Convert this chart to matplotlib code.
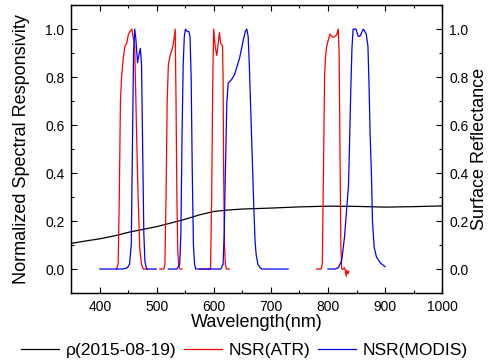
import matplotlib
matplotlib.use("Agg")
import matplotlib.pyplot as plt
from matplotlib.ticker import MultipleLocator

plt.rcParams["font.family"] = ["Liberation Sans", "DejaVu Sans"]

# surface reflectance rho(2015-08-19)
rho_wl = [350, 375, 400, 425, 450, 475, 500, 525, 550, 575, 600, 625, 650, 700, 750, 800, 850, 900, 950, 1000]
rho = [0.107, 0.117, 0.126, 0.138, 0.153, 0.165, 0.177, 0.192, 0.208, 0.226, 0.240, 0.246, 0.250, 0.254,
       0.259, 0.262, 0.261, 0.258, 0.260, 0.263]

# NSR(ATR) bands
atr1_wl = [429, 432, 434, 436, 438, 441, 444, 447, 450, 453, 456, 458, 461, 464, 467, 470, 473, 476, 484]
atr1 = [0.0, 0.02, 0.3, 0.7, 0.8, 0.88, 0.93, 0.94, 0.98, 0.99, 1.0, 0.97, 0.93, 0.6, 0.3, 0.08, 0.02, 0.0, 0.0]
atr2_wl = [505, 512, 514, 516, 518, 520, 523, 526, 528, 530, 532, 533.5, 535, 536.5, 538, 540, 544]
atr2 = [0.0, 0.0, 0.02, 0.3, 0.7, 0.85, 0.89, 0.91, 0.93, 0.96, 1.0, 0.7, 0.3, 0.08, 0.02, 0.0, 0.0]
atr3_wl = [575, 590, 594, 596, 598, 599.5, 602, 605, 607, 609.5, 612, 615, 616, 617, 618.5, 620, 622, 627]
atr3 = [0.0, 0.0, 0.0, 0.3, 0.8, 1.0, 0.93, 0.89, 0.93, 0.985, 0.94, 0.93, 0.8, 0.4, 0.1, 0.02, 0.0, 0.0]
atr4_wl = [780, 788, 790, 792, 794, 795.5, 797.5, 800, 803.5, 806.5, 809, 812, 815, 818, 819.5, 821, 822.5,
           824, 827, 829, 830.5, 832, 833, 835, 836.5]
atr4 = [0.0, 0.0, 0.02, 0.4, 0.8, 0.88, 0.926, 0.95, 0.98, 0.97, 0.965, 0.97, 0.975, 1.0, 0.9, 0.5, 0.1,
        0.0, 0.0, 0.005, -0.01, -0.03, -0.005, -0.02, -0.01]

# NSR(MODIS) bands
mod3_wl = [400, 440, 448, 452, 455, 457, 459, 461, 463, 466, 469, 471, 473, 475, 477, 479, 482, 490, 499]
mod3 = [0.0, 0.0, 0.005, 0.02, 0.1, 0.5, 0.9, 1.0, 0.96, 0.86, 0.9, 0.92, 0.85, 0.5, 0.15, 0.03, 0.0, 0.0, 0.0]
mod4_wl = [520, 535, 540, 542, 544, 546, 548, 550, 553, 556, 558, 560, 562, 564, 566, 568, 590]
mod4 = [0.0, 0.0, 0.02, 0.15, 0.55, 0.85, 0.97, 1.0, 0.99, 0.99, 0.97, 0.8, 0.4, 0.1, 0.02, 0.0, 0.0]
mod1_wl = [590, 612, 616, 618, 619.5, 622.5, 625, 631, 636, 640, 645, 649, 652, 655, 657.5, 660, 662, 664,
           666, 668, 670, 672, 674, 677, 681, 684, 730]
mod1 = [0.0, 0.0, 0.02, 0.15, 0.34, 0.69, 0.775, 0.79, 0.81, 0.84, 0.88, 0.926, 0.96, 0.99, 1.0, 0.97,
        0.85, 0.7, 0.55, 0.4, 0.25, 0.12, 0.06, 0.02, 0.005, 0.0, 0.0]
mod2_wl = [800, 812, 818, 824, 829, 833, 836, 838, 840, 842, 844, 849, 853, 856, 862, 867, 870, 872, 874,
           876, 878, 881, 885, 892, 900]
mod2 = [0.0, 0.0, 0.005, 0.035, 0.135, 0.26, 0.35, 0.55, 0.75, 0.92, 1.0, 1.0, 0.97, 0.97, 1.0, 0.98,
        0.93, 0.76, 0.55, 0.41, 0.2, 0.09, 0.05, 0.025, 0.01]

atr_bands = [(atr1_wl, atr1), (atr2_wl, atr2), (atr3_wl, atr3), (atr4_wl, atr4)]
modis_bands = [(mod3_wl, mod3), (mod4_wl, mod4), (mod1_wl, mod1), (mod2_wl, mod2)]

fig = plt.figure(figsize=(4.89, 3.64), dpi=100)
ax = fig.add_axes([0.146, 0.195, 0.758, 0.791])

lw = 0.9
h_rho, = ax.plot(rho_wl, rho, color="black", lw=lw)
for i, (wl, v) in enumerate(atr_bands):
    line, = ax.plot(wl, v, color="red", lw=lw)
    if i == 0:
        h_atr = line
for i, (wl, v) in enumerate(modis_bands):
    line, = ax.plot(wl, v, color="blue", lw=lw)
    if i == 0:
        h_mod = line

tick_fs = 10
label_fs = 13

ax.set_xlim(350, 1000)
ax.set_ylim(-0.1, 1.1)
ax.xaxis.set_major_locator(MultipleLocator(100))
ax.xaxis.set_minor_locator(MultipleLocator(50))
ax.set_yticks([0.0, 0.2, 0.4, 0.6, 0.8, 1.0])
ax.yaxis.set_minor_locator(MultipleLocator(0.1))
ax.tick_params(which="both", direction="in", top=True, labelsize=tick_fs, width=0.8)
ax.tick_params(which="major", length=4, pad=5)
ax.tick_params(which="minor", length=2.5)
ax.set_xlabel("Wavelength(nm)", fontsize=label_fs, labelpad=0)
ax.set_ylabel("Normalized Spectral Responsivity", fontsize=label_fs, labelpad=11)

ax2 = ax.twinx()
ax2.set_ylim(-0.1, 1.1)
ax2.set_yticks([0.0, 0.2, 0.4, 0.6, 0.8, 1.0])
ax2.yaxis.set_minor_locator(MultipleLocator(0.1))
ax2.tick_params(which="both", direction="in", labelsize=tick_fs, width=0.8)
ax2.tick_params(which="major", length=4, pad=5)
ax2.tick_params(which="minor", length=2.5)
ax2.set_ylabel("Surface Reflectance", fontsize=label_fs, labelpad=2)

for a in (ax, ax2):
    for s in a.spines.values():
        s.set_linewidth(0.9)

fig.legend([h_rho, h_atr, h_mod], ["\u03c1(2015-08-19)", "NSR(ATR)", "NSR(MODIS)"],
           loc="center", bbox_to_anchor=(0.5, 0.036), ncol=3, frameon=False,
           fontsize=12.5, handlelength=2.2, handletextpad=0.4, columnspacing=0.4,
           borderpad=0, borderaxespad=0)

fig.savefig("out.png", dpi=100)
